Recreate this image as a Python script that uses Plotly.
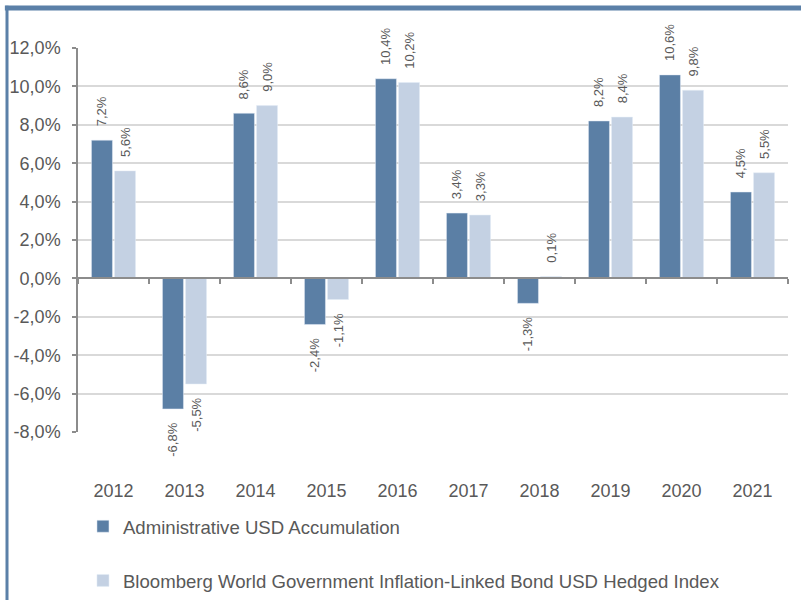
import plotly.graph_objects as go

years = ["2012", "2013", "2014", "2015", "2016", "2017", "2018", "2019", "2020", "2021"]
admin = [7.2, -6.8, 8.6, -2.4, 10.4, 3.4, -1.3, 8.2, 10.6, 4.5]
bench = [5.6, -5.5, 9.0, -1.1, 10.2, 3.3, 0.1, 8.4, 9.8, 5.5]
name_admin = "Administrative USD Accumulation"
name_bench = "Bloomberg World Government Inflation-Linked Bond USD Hedged Index"
ytick_vals = [-8, -6, -4, -2, 0, 2, 4, 6, 8, 10, 12]

DARK = "#5b7fa5"
LIGHT = "#c4d1e3"
TXT = "#595959"
AXIS = "#8c8c8c"
GRID = "#d9d9d9"
FONT = "Liberation Sans, Arial, sans-serif"
NB = "\u00a0"


def fmt(v):
    return ("%.1f" % v).replace(".", ",") + "%"


def labels(vals):
    out = []
    for v in vals:
        s = fmt(v)
        out.append(NB * 3 + s if v >= 0 else s + NB * 3)
    return out


fig = go.Figure()
fig.add_trace(go.Bar(
    x=years, y=admin, name=name_admin, marker_color=DARK,
    text=labels(admin), textposition="outside", textangle=-90,
    textfont=dict(size=13, color=TXT, family=FONT), cliponaxis=False,
    constraintext="none", legendgroup="a",
))
fig.add_trace(go.Bar(
    x=years, y=bench, name=name_bench, marker_color=LIGHT,
    text=labels(bench), textposition="outside", textangle=-90,
    textfont=dict(size=13, color=TXT, family=FONT), cliponaxis=False,
    constraintext="none", legendgroup="b",
))
# invisible trace carrying the zero-level category axis
fig.add_trace(go.Scatter(
    x=years, y=[None] * len(years), xaxis="x2", yaxis="y",
    showlegend=False, hoverinfo="skip", mode="markers",
))

fig.update_layout(
    width=801, height=600,
    margin=dict(l=78, r=13, t=48, b=168, autoexpand=False),
    paper_bgcolor="white", plot_bgcolor="white",
    font=dict(family=FONT, color=TXT, size=18),
    barmode="group", bargap=0.35, bargroupgap=0.09,
    xaxis=dict(
        type="category", range=[-0.5, 9.5], showline=False, ticks="",
        showgrid=False, zeroline=False, ticklabelstandoff=46, automargin=False,
        tickfont=dict(size=18, color=TXT),
    ),
    xaxis2=dict(
        type="category", range=[-0.5, 9.5], overlaying="x", anchor="free",
        position=0.4, side="bottom", showline=True, linecolor=AXIS, linewidth=1.5,
        ticks="outside", ticklen=5, tickcolor=AXIS, tickwidth=1.5, automargin=False,
        tickson="boundaries", showticklabels=False, showgrid=False, zeroline=False,
    ),
    yaxis=dict(
        range=[-8, 12], tickvals=ytick_vals, ticktext=[fmt(v) for v in ytick_vals],
        showline=True, linecolor=AXIS, linewidth=1.5, ticks="outside", ticklen=4,
        tickcolor=AXIS, tickwidth=1.5, showgrid=True, gridcolor=GRID, gridwidth=1.5,
        zeroline=False, ticklabelstandoff=8, automargin=False,
        tickfont=dict(size=18, color=TXT),
    ),
    legend=dict(
        orientation="v", x=0.007, y=-0.197, xanchor="left", yanchor="top",
        font=dict(size=18.6, color=TXT), tracegroupgap=27, traceorder="grouped",
        bgcolor="rgba(0,0,0,0)",
    ),
    shapes=[
        dict(type="line", xref="paper", yref="paper", x0=-0.103, x1=1.02,
             y0=1.1042, y1=1.1042, line=dict(color="#5b80a8", width=5)),
        dict(type="line", xref="paper", yref="paper", x0=-0.1, x1=-0.1,
             y0=1.11, y1=-0.44, line=dict(color="#5b80a8", width=3)),
    ],
)

fig.write_html("out.html", config={"displayModeBar": False},
               post_script="document.body.style.margin='0';")
